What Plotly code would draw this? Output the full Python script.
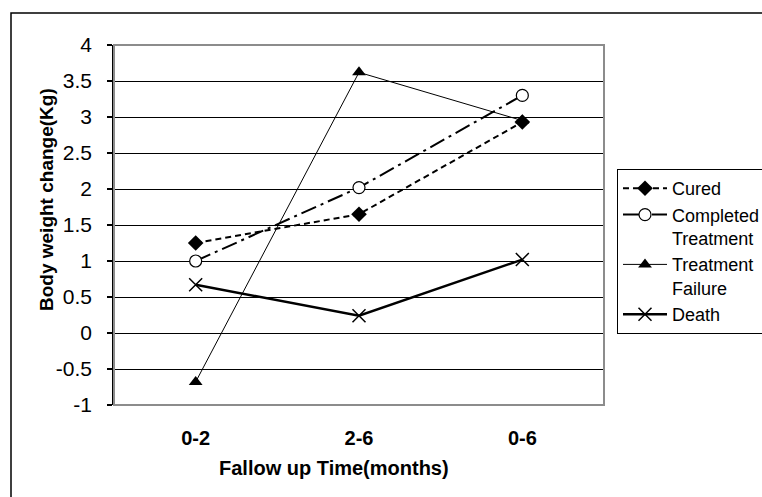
import plotly.graph_objects as go

categories = ["0-2", "2-6", "0-6"]
cured = [1.25, 1.65, 2.93]
completed = [1.0, 2.02, 3.3]
treatment_failure = [-0.68, 3.62, 2.95]
death = [0.67, 0.24, 1.02]
y_ticks = [-1, -0.5, 0, 0.5, 1, 1.5, 2, 2.5, 3, 3.5, 4]
y_labels = ["-1", "-0.5", "0", "0.5", "1", "1.5", "2", "2.5", "3", "3.5", "4"]

xi = list(range(len(categories)))
FONT = "Liberation Sans, Arial, sans-serif"

fig = go.Figure()
fig.add_trace(go.Scatter(
    x=xi, y=cured, name="Cured", mode="lines+markers",
    line=dict(color="black", width=2, dash="6px,4px"),
    marker=dict(symbol="diamond", size=12, color="black")))
fig.add_trace(go.Scatter(
    x=xi, y=completed, name="Completed<br>Treatment", mode="lines+markers",
    line=dict(color="black", width=2, dash="16px,5px,3px,5px"),
    marker=dict(symbol="circle", size=12, color="white", line=dict(color="black", width=1.2))))
fig.add_trace(go.Scatter(
    x=xi, y=treatment_failure, name="Treatment<br>Failure", mode="lines+markers",
    line=dict(color="black", width=1),
    marker=dict(symbol="triangle-up", size=12, color="black")))
fig.add_trace(go.Scatter(
    x=xi, y=death, name="Death", mode="lines+markers",
    line=dict(color="black", width=2.5),
    marker=dict(symbol="x-thin-open", size=13, color="black", line=dict(color="black", width=1.5))))

W, H = 762, 497
L, R, T, B = 114, 604, 45, 405

def px_x(p):
    return (p - L) / (R - L)

def px_y(p):
    return (B - p) / (B - T)

fig.update_layout(
    width=W, height=H,
    margin=dict(l=L, r=W - R, t=T, b=H - B, autoexpand=False),
    paper_bgcolor="white", plot_bgcolor="white",
    font=dict(family=FONT, size=18, color="black"),
    showlegend=True, hovermode=False,
    legend=dict(
        x=px_x(617), y=px_y(169), xanchor="left", yanchor="top",
        bordercolor="black", borderwidth=1, bgcolor="white",
        font=dict(family=FONT, size=18, color="black"),
        valign="top", itemwidth=44, tracegroupgap=0,
    ),
    xaxis=dict(
        range=[-0.5, 2.5], tickvals=xi, ticktext=categories,
        showgrid=False, zeroline=False, showline=False, ticks="",
        tickfont=dict(family=FONT, size=20, color="black", weight="bold"),
        ticklabelstandoff=19,
    ),
    xaxis2=dict(
        overlaying="x", anchor="free", position=0.2, side="bottom",
        range=[-0.5, 2.5], tickvals=[-0.5, 0, 0.5, 1, 1.5, 2, 2.5],
        showticklabels=False, ticks="outside", ticklen=5, tickwidth=1.5,
        tickcolor="black", showgrid=False, zeroline=False, showline=False,
    ),
    yaxis=dict(
        range=[-1, 4], tickvals=y_ticks, ticktext=y_labels,
        showgrid=True, gridcolor="black", gridwidth=1,
        zeroline=False, showline=True, linecolor="black", linewidth=1.5,
        ticks="outside", ticklen=5, tickcolor="black", tickwidth=1.5,
        tickfont=dict(family=FONT, size=21, color="black"),
        ticklabelstandoff=11,
    ),
    shapes=[
        dict(type="rect", xref="paper", yref="paper",
             x0=0, x1=1, y0=0, y1=1,
             line=dict(color="#8c8c8c", width=2), layer="above"),
        dict(type="rect", xref="paper", yref="paper",
             x0=px_x(11), x1=px_x(790), y0=px_y(13), y1=px_y(530),
             line=dict(color="black", width=1.5), layer="below"),
    ],
    annotations=[
        dict(text="<b>Fallow up Time(months)</b>", xref="paper", yref="paper",
             x=px_x(334), y=px_y(468), xanchor="center", yanchor="middle",
             showarrow=False, font=dict(family=FONT, size=20, color="black")),
        dict(text="<b>Body weight change(Kg)</b>", xref="paper", yref="paper",
             x=px_x(46), y=px_y(200), xanchor="center", yanchor="middle",
             textangle=-90, showarrow=False,
             font=dict(family=FONT, size=19, color="black")),
    ],
)

post = (
    "document.documentElement.style.overflow='hidden';"
    "document.body.style.margin='0';"
    "document.body.style.overflow='hidden';"
    "var d=document.getElementById('{plot_id}');"
    "d.style.overflow='hidden';"
)
fig.write_html("out.html", config={"displayModeBar": False}, post_script=post)
